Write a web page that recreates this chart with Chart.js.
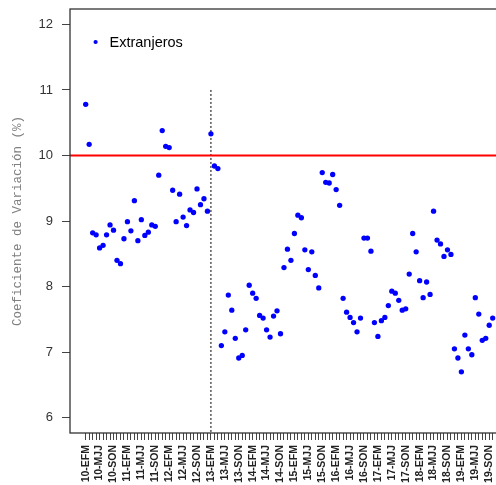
<!DOCTYPE html>
<html>
<head>
<meta charset="utf-8">
<script src="https://cdn.jsdelivr.net/npm/chart.js@4/dist/chart.umd.min.js"></script>
<style>
  html, body { margin: 0; padding: 0; background: #fff; }
  #wrap { width: 496px; height: 485px; overflow: hidden; }
</style>
</head>
<body>
<div id="wrap"><canvas id="cvChart" width="500" height="485"></canvas></div>
<script>
// Data
const years = ['10', '11', '12', '13', '14', '15', '16', '17', '18', '19'];
const trims = ['EFM', 'FMA', 'MAM', 'AMJ', 'MJJ', 'JJA', 'JAS', 'ASO', 'SON', 'OND', 'NDE', 'DEF'];
const yTicks = [6, 7, 8, 9, 10, 11, 12];
const umbral = 10;          // red reference line
const corte = '13-EFM';     // dotted vertical line
const corteTop = 11;

// coeficiente de variacion, one value per rolling trimester (10-EFM .. 19-OND)
const extranjeros = [
    10.78, 10.17, 8.82, 8.79, 8.59, 8.63, 8.79, 8.94, 8.86, 8.40, 8.35, 8.73,
    8.99, 8.85, 9.31, 8.70, 9.02, 8.78, 8.83, 8.94, 8.92, 9.70, 10.38, 10.14,
    10.12, 9.47, 8.99, 9.41, 9.06, 8.93, 9.17, 9.13, 9.49, 9.25, 9.34, 9.15,
    10.33, 9.84, 9.80, 7.10, 7.31, 7.87, 7.64, 7.21, 6.91, 6.95, 7.34, 8.02,
    7.90, 7.82, 7.56, 7.52, 7.34, 7.23, 7.55, 7.63, 7.28, 8.29, 8.57, 8.40,
    8.81, 9.09, 9.05, 8.56, 8.26, 8.53, 8.17, 7.98, 9.74, 9.59, 9.58, 9.71,
    9.48, 9.24, 7.82, 7.61, 7.53, 7.45, 7.31, 7.52, 8.74, 8.74, 8.54, 7.45,
    7.24, 7.48, 7.53, 7.71, 7.93, 7.90, 7.79, 7.64, 7.66, 8.19, 8.81, 8.53,
    8.09, 7.83, 8.07, 7.88, 9.15, 8.71, 8.65, 8.46, 8.56, 8.49, 7.05, 6.91,
    6.70, 7.26, 7.05, 6.96, 7.83, 7.58, 7.18, 7.21, 7.41, 7.52
];

// Build labels
const labels = [];
years.forEach(y => trims.forEach(t => labels.push(y + '-' + t)));
labels.length = extranjeros.length;

const yMin = 5.766, yMax = 12.235;
const xMin = -4.51, xMax = 119.1;
const corteIdx = labels.indexOf(corte);

// Plot box + legend
const framePlugin = {
    id: 'frame',
    afterDraw(chart) {
        const { ctx, chartArea: a } = chart;
        ctx.save();
        ctx.strokeStyle = '#333';
        ctx.lineWidth = 1.3;
        ctx.strokeRect(a.left, a.top, a.right - a.left, a.bottom - a.top);

        // legend
        ctx.fillStyle = '#0000FF';
        ctx.beginPath();
        ctx.arc(a.left + 25.6, a.top + 33, 2.1, 0, Math.PI * 2);
        ctx.fill();
        ctx.fillStyle = '#000';
        ctx.font = '14.5px "Liberation Sans", Arial, sans-serif';
        ctx.textBaseline = 'middle';
        ctx.fillText('Extranjeros', a.left + 39.5, a.top + 33.5);
        ctx.restore();
    }
};

new Chart(document.getElementById('cvChart'), {
    type: 'scatter',
    data: {
        datasets: [
            {
                label: 'Extranjeros',
                data: extranjeros.map((v, i) => ({ x: i, y: v })),
                backgroundColor: '#0000FF',
                borderWidth: 0,
                pointRadius: 2.65,
                order: 1
            },
            {
                label: 'umbral',
                type: 'line',
                data: [{ x: xMin, y: umbral }, { x: xMax, y: umbral }],
                borderColor: '#FF0000',
                borderWidth: 2.2,
                pointRadius: 0,
                order: 0
            },
            {
                label: 'corte',
                type: 'line',
                data: [{ x: corteIdx, y: corteTop }, { x: corteIdx, y: yMin }],
                borderColor: '#000',
                borderWidth: 1,
                borderDash: [2, 2],
                pointRadius: 0,
                order: 2
            }
        ]
    },
    options: {
        responsive: false,
        animation: false,
        devicePixelRatio: 1,
        layout: { autoPadding: false, padding: { top: 9, left: 0, right: 0, bottom: 0 } },
        plugins: { legend: { display: false }, tooltip: { enabled: false } },
        scales: {
            x: {
                type: 'linear',
                min: xMin,
                max: xMax,
                afterBuildTicks: s => { s.ticks = labels.map((_, i) => ({ value: i })); },
                afterFit: s => { s.height = 52; s.paddingLeft = 0; s.paddingRight = 0; },
                border: { display: false },
                grid: { drawOnChartArea: false, tickLength: 7, color: '#444', lineWidth: 1 },
                ticks: {
                    autoSkip: false,
                    minRotation: 90,
                    maxRotation: 90,
                    padding: 5,
                    color: '#222',
                    font: { family: '"Liberation Sans", Arial, sans-serif', size: 10.5, weight: 'bold' },
                    callback: v => (v % 4 === 0 ? labels[v] : '')
                }
            },
            y: {
                min: yMin,
                max: yMax,
                afterBuildTicks: s => { s.ticks = yTicks.map(v => ({ value: v })); },
                afterFit: s => { s.width = 70; s.paddingTop = 0; s.paddingBottom = 0; },
                border: { display: false },
                grid: { drawOnChartArea: false, tickLength: 8, color: '#444', lineWidth: 1 },
                ticks: {
                    padding: 9,
                    color: '#333',
                    font: { family: '"Liberation Sans", Arial, sans-serif', size: 13 }
                },
                title: {
                    display: true,
                    text: 'Coeficiente de Variación (%)',
                    color: '#808080',
                    padding: { top: 10.5, bottom: 0 },
                    font: { family: '"Liberation Mono", "Courier New", monospace', size: 12.5 }
                }
            }
        }
    },
    plugins: [framePlugin]
});
</script>
</body>
</html>
